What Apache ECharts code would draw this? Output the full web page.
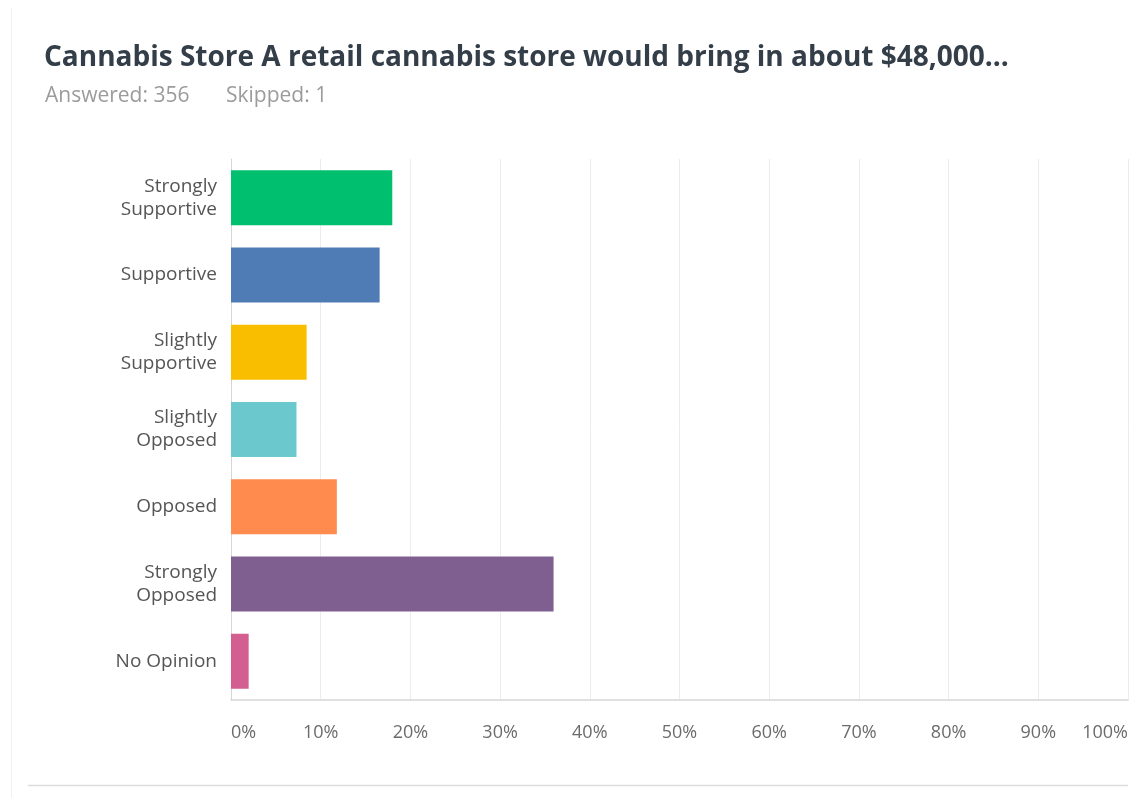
<!DOCTYPE html>
<html>
<head>
<meta charset="utf-8">
<title>Cannabis Store survey</title>
<script src="https://cdn.jsdelivr.net/npm/echarts@6/dist/echarts.min.js"></script>
<style>
  html, body { margin: 0; padding: 0; background: #ffffff; }
  #chart { width: 1140px; height: 798px; }
</style>
</head>
<body>
<div id="chart"></div>
<script>
// Survey answers, top to bottom
const categories = [
  'Strongly\nSupportive',
  'Supportive',
  'Slightly\nSupportive',
  'Slightly\nOpposed',
  'Opposed',
  'Strongly\nOpposed',
  'No Opinion'
];
// Share of respondents (%) for each answer
const shares = [17.98, 16.57, 8.43, 7.30, 11.80, 35.96, 1.97];
const answeredText = 'Answered: 356';
const skippedText = 'Skipped: 1';
const titleText = 'Cannabis Store A retail cannabis store would bring in about $48,000...';

// One colour per answer bar
const palette = ['#00bf6f', '#507cb6', '#f9be00', '#6bc8cd', '#ff8b4f', '#7f5f90', '#d25f90'];

const FONT = '"Open Sans", "Noto Sans", sans-serif';

const chart = echarts.init(document.getElementById('chart'), null, { renderer: 'canvas' });

chart.setOption({
  backgroundColor: '#ffffff',
  animation: false,
  textStyle: { fontFamily: FONT },
  title: [
    {
      text: titleText,
      left: 44,
      top: 44,
      padding: 0,
      textStyle: { fontFamily: FONT, fontSize: 28, fontWeight: 'bold', color: '#333e48' }
    },
    {
      text: answeredText,
      left: 45,
      top: 86,
      padding: 0,
      textStyle: { fontFamily: FONT, fontSize: 21, fontWeight: 'normal', color: '#9b9b9b' }
    },
    {
      text: skippedText,
      left: 226,
      top: 86,
      padding: 0,
      textStyle: { fontFamily: FONT, fontSize: 21, fontWeight: 'normal', color: '#9b9b9b' }
    }
  ],
  graphic: [
    {
      type: 'line',
      shape: { x1: 11.5, y1: 8, x2: 11.5, y2: 798 },
      style: { stroke: '#f0f0f0', lineWidth: 1 }
    },
    {
      type: 'line',
      shape: { x1: 28, y1: 785.5, x2: 1128, y2: 785.5 },
      style: { stroke: '#dcdcdc', lineWidth: 1.5 }
    }
  ],
  grid: { left: 231, right: 12, top: 159, bottom: 98, containLabel: false },
  xAxis: {
    type: 'value',
    min: 0,
    max: 100,
    interval: 10,
    axisLine: { show: true, lineStyle: { color: '#d6d6d6', width: 1.5 } },
    axisTick: { show: false },
    splitLine: { show: true, lineStyle: { color: '#ececec', width: 1 } },
    axisLabel: {
      formatter: '{value}%',
      color: '#6b6b6b',
      fontSize: 18,
      fontFamily: FONT,
      margin: 24,
      alignMinLabel: 'left',
      alignMaxLabel: 'right'
    }
  },
  yAxis: {
    type: 'category',
    data: categories,
    inverse: true,
    axisLine: { show: true, lineStyle: { color: '#d6d6d6', width: 1 } },
    axisTick: { show: false },
    splitLine: { show: false },
    axisLabel: {
      color: '#555555',
      fontSize: 19,
      lineHeight: 23,
      fontFamily: FONT,
      margin: 14
    }
  },
  series: [
    {
      type: 'bar',
      data: shares.map((v, i) => ({ value: v, itemStyle: { color: palette[i] } })),
      barWidth: 55,
      silent: true
    }
  ]
});
</script>
</body>
</html>
